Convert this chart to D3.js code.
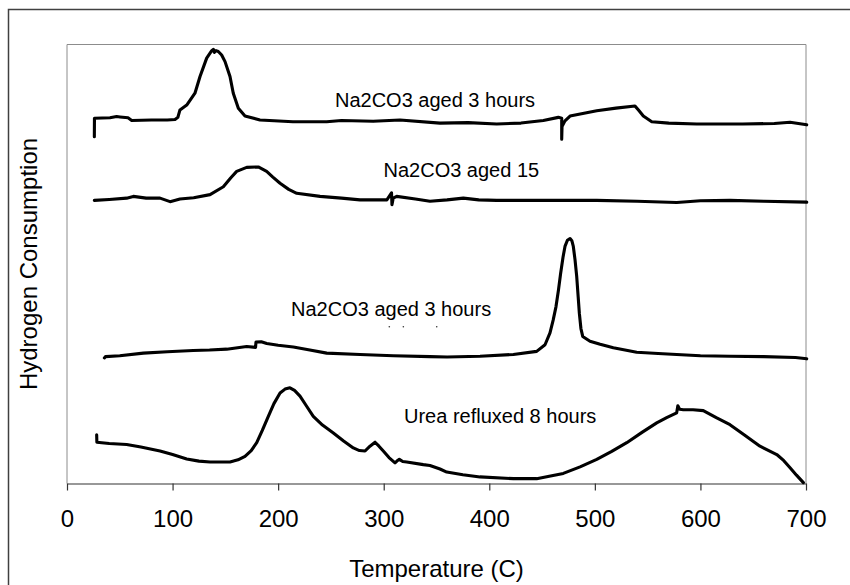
<!DOCTYPE html>
<html>
<head>
<meta charset="utf-8">
<script src="https://cdn.jsdelivr.net/npm/d3@7/dist/d3.min.js"></script>
<style>
  body { margin: 0; background: #fff; }
  svg { display: block; font-family: "Liberation Sans", Arial, sans-serif; }
  .line { fill: none; stroke: #000; stroke-width: 3.1; stroke-linejoin: round; stroke-linecap: round; }
</style>
</head>
<body>
<svg width="850" height="585"></svg>
<script>
// x ticks (temperature, C)
const xTicks = [0, 100, 200, 300, 400, 500, 600, 700];

// traces: [temperature, signal (arb. units, 0-100 over plot height)]
const aged3hTop = [
  [25.9, 79.0], [26.0, 83.2], [40.7, 83.3], [47, 83.6], [50.2, 83.5], [57.8, 83.3], [61.3, 82.7],
  [80, 82.8], [95, 82.8], [102.3, 82.9], [105, 83.4], [107, 85.1], [113.4, 86.2],
  [121.2, 88.9], [126, 92.7], [132.3, 96.9], [137.1, 98.6], [138.6, 98.9], [139.5, 98.2],
  [141.1, 98.6], [143.3, 98.4], [146.5, 97.6], [149.7, 96.1], [154.4, 92.7], [157.5, 88.9],
  [162.3, 85.5], [168.6, 83.7], [182.8, 82.8], [214, 82.4], [246, 82.4], [260, 82.7],
  [290, 82.5], [315.4, 82.8], [353.3, 82.1], [380, 82.2], [407, 81.9], [430, 82.1],
  [451.2, 82.7], [465.4, 83.4], [468.6, 83.2], [468.6, 78.4], [468.9, 81.3], [471.7, 82.6],
  [476.5, 83.7], [501.8, 84.9], [520, 85.5], [538, 86.0], [541.5, 85.0], [545.9, 83.7],
  [553.9, 82.4], [570, 82.1], [596.5, 81.9], [640, 81.9], [670, 82.0], [684.9, 82.3], [700.7, 81.7]
];

const aged15 = [
  [25.9, 64.5], [40, 64.7], [56.5, 65.0], [62.8, 65.4], [75, 65.0], [88.1, 65.0], [97.6, 64.2],
  [107, 64.8], [120, 65.1], [135.5, 65.8], [148.1, 67.6], [155, 69.6], [160.7, 71.1],
  [170.2, 72.0], [181.2, 72.1], [189.1, 71.1], [195, 69.8], [201.8, 68.4], [210, 67.0],
  [217.6, 66.1], [239.7, 65.4], [260, 65.0], [277.5, 64.6], [303, 64.6], [307.4, 66.2],
  [307.8, 63.5], [309, 65.0], [312.3, 65.4], [330, 64.8], [343.8, 64.3], [360, 64.6],
  [375.4, 65.0], [390, 64.6], [407, 64.5], [450, 64.5], [501.8, 64.5], [540, 64.3],
  [577.5, 64.0], [600, 64.4], [627.9, 64.5], [660, 64.3], [700.7, 64.1]
];

const aged3hLow = [
  [35.4, 28.6], [36.5, 28.9], [50, 29.1], [72.3, 29.7], [95, 30.0], [119.6, 30.3], [135, 30.4],
  [151.3, 30.6], [170.2, 31.2], [178.6, 31.0], [179.0, 32.2], [184, 32.3], [189.2, 31.9],
  [200, 31.5], [214.4, 31.1], [230, 30.4], [246, 29.7], [277.5, 29.4], [309.1, 29.1],
  [343.8, 28.9], [360, 28.8], [391.2, 29.0], [422.8, 29.4], [444.9, 30.1], [452.8, 31.6],
  [457.5, 34.3], [460.5, 37.2], [463.2, 40.3], [465.5, 44.0], [467.6, 47.9], [469.8, 51.5],
  [471.7, 54.0], [474, 55.4], [476.5, 55.8], [478.2, 55.3], [479.6, 54.0], [481.2, 51.0],
  [482.8, 47.2], [484.2, 42.5], [485.3, 38.8], [486.8, 35.3], [488.5, 33.5], [495.4, 32.4],
  [505, 31.7], [517.5, 30.9], [539.6, 29.9], [560, 29.6], [577.5, 29.4], [600, 29.1],
  [628, 29.0], [660, 28.9], [690, 28.7], [700.7, 28.4]
];

const ureaRefluxed = [
  [28.1, 11.1], [28.3, 9.4], [40, 9.1], [56.5, 8.9], [70, 8.3], [88.1, 7.4], [100, 6.6],
  [113.4, 5.6], [125, 5.1], [135.5, 4.9], [154.4, 4.9], [162, 5.4], [168.6, 6.2],
  [174.5, 7.5], [179.7, 9.3], [185, 12.1], [190.7, 15.3], [196, 18.2], [201.8, 20.6],
  [206.5, 21.5], [211.2, 21.8], [215.5, 21.2], [220.7, 19.9], [227, 17.6], [233.3, 15.3],
  [242, 13.3], [252.3, 11.5], [262, 9.7], [271.2, 8.1], [277, 7.5], [282.3, 7.4],
  [287, 8.5], [291.8, 9.4], [295.5, 8.5], [299.6, 7.4], [305, 5.9], [310.7, 4.7],
  [312.5, 5.1], [314.8, 5.5], [318, 5.0], [321.8, 4.9], [337.5, 4.3], [343.8, 4.1],
  [353.3, 3.3], [359.7, 2.6], [375, 2.0], [391.2, 1.5], [422.8, 1.1], [444.9, 1.1],
  [458, 1.7], [470.1, 2.3], [486, 3.8], [501.8, 5.5], [516, 7.3], [530.2, 9.3],
  [545, 11.7], [558.6, 13.8], [568, 15.0], [577.5, 16.1], [578.6, 17.7], [580.3, 16.9],
  [583.8, 16.8], [593, 16.8], [602.7, 16.6], [615, 15.0], [628, 13.4], [642, 11.0],
  [656.4, 8.5], [672.3, 6.6], [679, 5.2], [684.9, 3.6], [691, 1.9], [697.5, 0.2]
];

const series = [aged3hTop, aged15, aged3hLow, ureaRefluxed];

// in-plot labels: text, temperature at left edge, signal at baseline
const labelText = ["Na2CO3 aged 3 hours", "Na2CO3 aged 15", "Na2CO3 aged 3 hours", "Urea refluxed 8 hours"];
const labelT    = [253.8, 299.8, 212.2, 319.2];
const labelV    = [85.8, 69.8, 38.1, 13.8];

// stray dots under the third label
const strayDots = [[305.3, 35.7], [318.6, 35.7], [350.2, 35.7]];

const svg = d3.select("svg");

// outer chart border (runs off the right and bottom of the picture)
svg.append("rect")
    .attr("x", 8.5).attr("y", 9.5)
    .attr("width", 900).attr("height", 700)
    .attr("fill", "none").attr("stroke", "#404040").attr("stroke-width", 1.5);

const x = d3.scaleLinear().domain([0, 700]).range([67, 806]);
const y = d3.scaleLinear().domain([0, 100]).range([483.5, 44.5]);

// plot frame, top and right
svg.append("path")
    .attr("d", "M" + x(0) + "," + y(100) + "H" + x(700) + "V" + y(0))
    .attr("fill", "none").attr("stroke", "#8c8c8c").attr("stroke-width", 1);

// left axis
svg.append("line")
    .attr("x1", x(0)).attr("x2", x(0))
    .attr("y1", y(0)).attr("y2", y(100))
    .attr("stroke", "#8c8c8c").attr("stroke-width", 1);

// bottom axis
const gx = svg.append("g")
    .attr("transform", "translate(0," + y(0) + ")")
    .call(d3.axisBottom(x).tickValues(xTicks).tickFormat(d3.format("d"))
        .tickSize(7).tickSizeOuter(0).tickPadding(19));
gx.select(".domain").attr("stroke", "#333").attr("stroke-width", 1.2);
gx.selectAll(".tick line").attr("stroke", "#333").attr("stroke-width", 1.2);
gx.selectAll(".tick text")
    .attr("fill", "#000")
    .style("font-size", "24px")
    .style("font-family", "'Liberation Sans', Arial, sans-serif");

// titles
svg.append("text")
    .attr("x", (x(0) + x(700)) / 2).attr("y", 577)
    .attr("text-anchor", "middle")
    .style("font-size", "24px")
    .text("Temperature (C)");

svg.append("text")
    .attr("transform", "translate(37," + (y(0) + y(100)) / 2 + ") rotate(-90)")
    .attr("text-anchor", "middle")
    .style("font-size", "24px")
    .text("Hydrogen Consumption");

// traces
const line = d3.line()
    .x(d => x(d[0]))
    .y(d => y(d[1]));

svg.append("g").selectAll("path")
    .data(series)
    .join("path")
    .attr("class", "line")
    .attr("d", line);

// labels
svg.append("g").selectAll("text")
    .data(labelText)
    .join("text")
    .attr("x", (d, i) => x(labelT[i]))
    .attr("y", (d, i) => y(labelV[i]))
    .style("font-size", "20px")
    .text(d => d);

svg.append("g").selectAll("circle")
    .data(strayDots)
    .join("circle")
    .attr("cx", d => x(d[0]))
    .attr("cy", d => y(d[1]))
    .attr("r", 0.8)
    .attr("fill", "#333");
</script>
</body>
</html>
